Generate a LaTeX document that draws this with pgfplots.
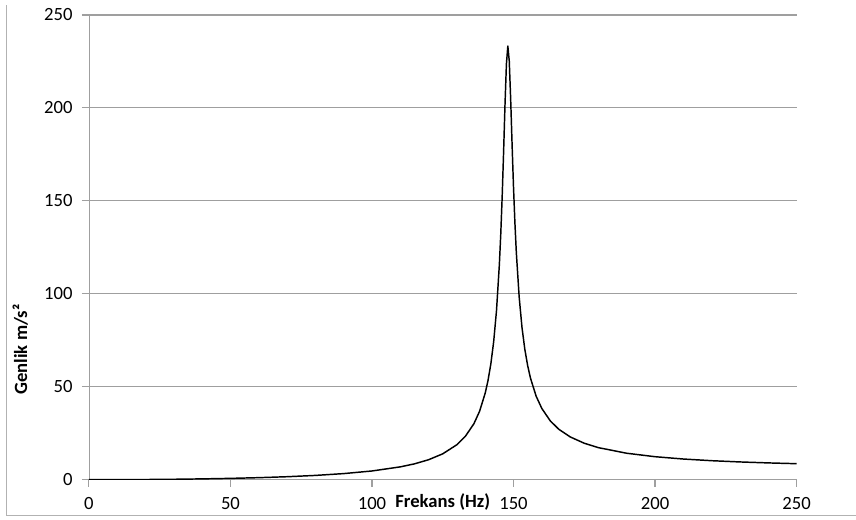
\documentclass[border=0pt]{standalone}
\usepackage{fontspec}
\setmainfont{Carlito}
\usepackage{pgfplots}
\pgfplotsset{compat=1.18}

% Resonance response (Hz, m/s^2)
\pgfplotstableread{
f      a
0      0
10     0.026
20     0.104
30     0.240
40     0.441
50     0.72
60     1.10
70     1.61
80     2.31
90     3.29
100    4.70
110    6.91
115    8.53
120    10.75
125    13.93
130    18.83
133    23.36
136    30.09
138    36.75
140    46.57
141    53.42
142    62.33
143    74.30
144    91.07
145    115.6
145.5  132.1
146    152.3
146.5  176.1
147    201.8
147.5  223.7
148    233.3
148.5  225.3
149    204.8
149.5  180.4
150    157.6
150.5  138.2
151    122.2
152    98.33
153    81.93
154    70.17
155    61.40
156    54.64
158    44.94
160    38.34
163    31.65
166    27.15
170    23.05
175    19.62
180    17.25
190    14.24
200    12.38
210    11.13
220    10.23
230    9.56
240    9.04
250    8.62
}\response

\begin{document}
\begin{tikzpicture}
\begin{axis}[
    scale only axis,
    width=531pt, height=348.75pt,
    xmin=0, xmax=250, ymin=0, ymax=250,
    xtick={0,50,...,250}, ytick={0,50,...,250},
    axis x line*=bottom, axis y line*=left,
    axis line style={-, draw=gray!75},
    tick align=outside,
    major tick length=5.25pt,
    tick style={gray!75, line width=0.8pt},
    ymajorgrids,
    grid style={gray!75, line width=0.8pt},
    ticklabel style={font=\fontsize{14}{16}\selectfont},
    xticklabel style={yshift=-4.5pt},
    yticklabel style={xshift=-3.5pt},
    /pgf/number format/assume math mode=true,
    xlabel={\textbf{Frekans (Hz)}},
    xlabel style={at={(axis description cs:0.5,0)}, anchor=center, yshift=-17pt,
        font=\fontsize{14}{16}\selectfont},
    ylabel={\textbf{Genlik m/s²}},
    ylabel style={at={(axis description cs:-0.097,0.28)}, anchor=center,
        font=\fontsize{14}{16}\selectfont},
]
\addplot[black, line width=1.1pt, line join=round] table[x=f, y=a] {\response};
\end{axis}
\draw[gray!60, line width=0.75pt] (-61.5pt,-27pt) -- (-61.5pt,356pt);
\draw[gray!60, line width=0.75pt] (-61.5pt,-27pt) -- (575.25pt,-27pt);
\path (-66.75pt,-30pt) rectangle (575.25pt,360pt);
\end{tikzpicture}
\end{document}
